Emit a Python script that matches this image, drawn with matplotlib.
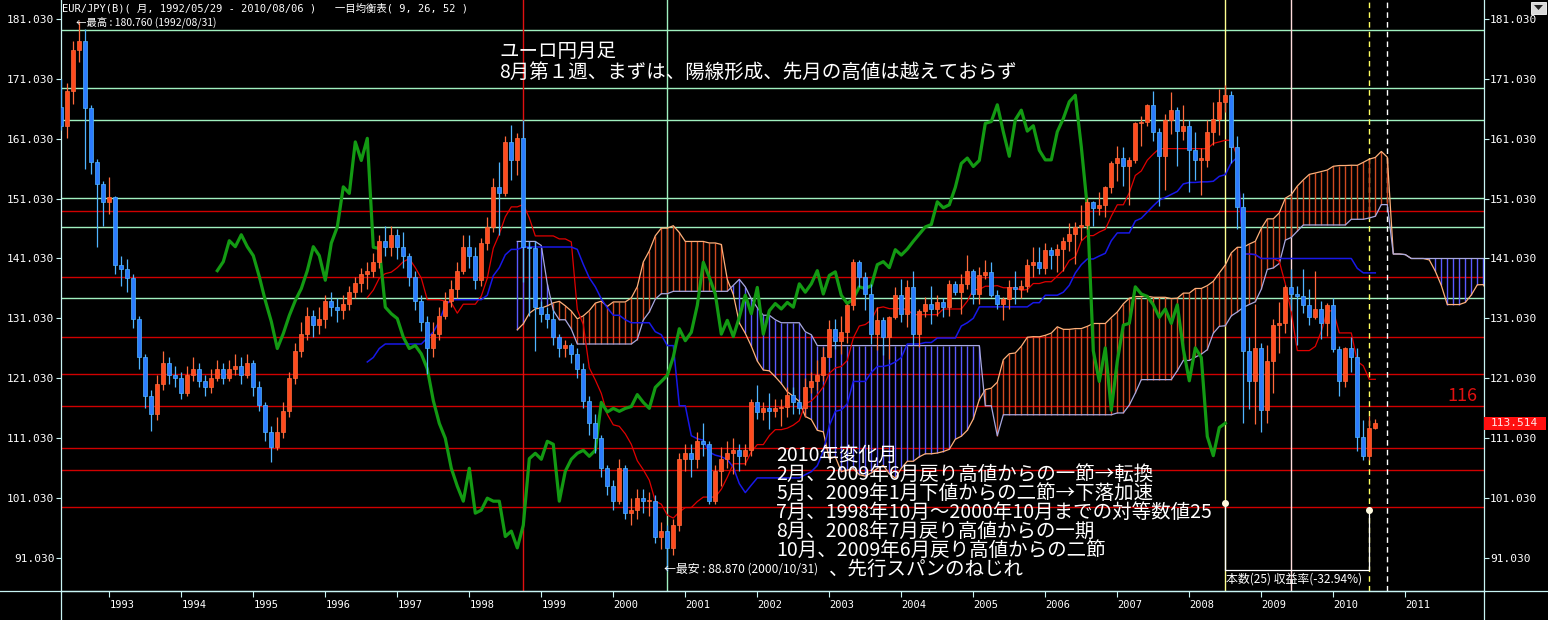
import numpy as np
import matplotlib.pyplot as plt
from matplotlib.lines import Line2D
from matplotlib.patches import Rectangle, Polygon

plt.rcParams['font.family'] = ['DejaVu Sans Mono', 'Noto Sans CJK JP']
JP = ['Noto Sans CJK JP', 'DejaVu Sans']

# EUR/JPY monthly bars, bar 0 = 1992/05, last bar = 2010/08
first_open = 166.3

close_1992 = [163.1, 169.0, 175.9, 177.3, 166.1, 157.2, 153.5, 150.5]
close_1993 = [151.3, 140.0, 139.2, 137.8, 131.0, 124.5, 118.0, 115.0, 120.0, 123.5, 121.5, 121.0]
close_1994 = [118.5, 121.5, 122.5, 120.5, 119.5, 121.0, 122.5, 121.0, 122.5, 123.0, 121.5, 123.5]
close_1995 = [119.5, 116.5, 112.0, 109.5, 112.0, 115.5, 121.0, 125.5, 128.5, 131.5, 130.0, 131.0]
close_1996 = [134.0, 133.0, 132.5, 133.5, 135.5, 137.0, 138.5, 139.0, 140.5, 144.0, 143.0, 145.0]
close_1997 = [143.0, 141.5, 138.0, 134.0, 130.5, 126.0, 128.5, 131.5, 134.0, 136.0, 139.0, 143.0]
close_1998 = [141.5, 137.4, 143.6, 146.3, 153.0, 151.9, 160.5, 157.4, 161.1, 142.9, 142.7, 132.9]
close_1999 = [131.8, 131.0, 127.9, 126.0, 126.5, 125.1, 122.6, 117.3, 113.5, 111.0, 106.0, 103.0]
close_2000 = [100.5, 106.0, 98.5, 99.0, 101.0, 100.5, 100.5, 94.6, 95.5, 92.7, 96.5, 107.6]
close_2001 = [108.5, 107.5, 110.5, 110.0, 100.5, 105.5, 107.5, 108.5, 109.0, 108.0, 109.0, 117.0]
close_2002 = [115.4, 116.0, 115.5, 116.0, 116.3, 118.3, 117.0, 116.0, 119.5, 120.5, 121.5, 124.6]
close_2003 = [129.3, 127.3, 128.7, 133.2, 140.4, 137.9, 135.1, 128.4, 130.7, 128.0, 131.2, 134.9]
close_2004 = [131.8, 136.2, 128.4, 132.3, 133.5, 132.6, 133.7, 132.9, 136.8, 135.4, 136.8, 139.0]
close_2005 = [135.1, 138.2, 138.8, 134.9, 133.5, 134.3, 136.3, 136.0, 136.5, 140.0, 140.5, 139.5]
close_2006 = [142.5, 141.6, 142.6, 143.9, 145.1, 146.3, 146.7, 150.5, 149.5, 150.0, 152.9, 156.9]
close_2007 = [157.8, 156.4, 157.4, 163.6, 163.9, 166.7, 162.2, 158.1, 164.2, 165.8, 162.3, 163.2]
close_2008 = [159.1, 157.5, 157.5, 162.2, 164.4, 167.2, 168.3, 159.7, 149.6, 125.6, 120.5, 126.1]
close_2009 = [115.7, 123.9, 129.9, 130.2, 136.3, 135.1, 134.7, 133.3, 131.2, 132.6, 130.2, 133.3]
close_2010 = [125.9, 120.6, 126.1, 124.5, 111.3, 108.1, 112.8, 113.514]

high_1992 = [171.0, 170.4, 177.4, 180.76, 179.4, 166.6, 157.7, 154.0]
high_1993 = [154.6, 151.5, 141.5, 141.0, 138.5, 131.5, 125.0, 119.0, 121.5, 125.5, 124.5, 123.0]
high_1994 = [122.0, 123.0, 124.5, 123.5, 121.5, 122.5, 124.0, 123.5, 124.0, 125.0, 124.5, 125.0]
high_1995 = [124.0, 120.5, 117.0, 113.0, 114.5, 117.0, 122.0, 127.0, 130.5, 133.0, 132.5, 133.0]
high_1996 = [135.0, 135.5, 134.5, 135.0, 136.5, 138.0, 139.5, 140.5, 142.0, 145.0, 146.5, 146.5]
high_1997 = [146.0, 145.5, 142.0, 139.0, 135.0, 131.5, 130.5, 133.0, 135.5, 137.5, 140.5, 145.0]
high_1998 = [145.0, 143.0, 144.5, 148.0, 154.5, 157.2, 161.5, 163.3, 162.0, 164.1, 144.0, 144.0]
high_1999 = [134.0, 133.0, 132.5, 128.5, 127.5, 127.0, 126.0, 123.5, 118.0, 115.0, 111.5, 106.5]
high_2000 = [104.0, 107.5, 106.5, 101.0, 102.5, 102.5, 102.0, 101.5, 97.0, 96.5, 97.5, 108.5]
high_2001 = [110.0, 110.0, 112.0, 113.5, 110.5, 106.5, 109.5, 110.5, 111.0, 110.0, 110.0, 117.5]
high_2002 = [119.9, 117.0, 118.5, 117.5, 117.5, 119.5, 119.6, 117.5, 121.0, 122.0, 124.0, 126.2]
high_2003 = [130.7, 131.0, 131.5, 133.5, 141.0, 140.7, 138.8, 136.8, 132.9, 131.2, 131.5, 136.2]
high_2004 = [137.6, 137.4, 139.0, 132.6, 134.6, 136.5, 135.0, 134.5, 137.5, 137.3, 138.5, 141.6]
high_2005 = [139.3, 139.6, 140.7, 140.4, 135.7, 134.6, 137.4, 139.0, 137.5, 141.0, 143.0, 143.0]
high_2006 = [143.6, 143.0, 143.5, 144.6, 146.9, 147.1, 149.9, 151.2, 150.6, 152.2, 153.1, 157.3]
high_2007 = [159.9, 159.7, 158.0, 163.9, 164.8, 166.9, 168.96, 162.9, 165.1, 168.9, 166.3, 166.7]
high_2008 = [164.1, 162.2, 159.4, 164.1, 167.2, 169.4, 169.96, 169.0, 161.5, 152.0, 128.0, 133.5]
high_2009 = [127.0, 126.5, 131.0, 133.8, 136.6, 139.2, 136.5, 139.2, 136.0, 138.9, 134.0, 133.6]
high_2010 = [134.4, 126.4, 126.2, 127.9, 126.0, 114.0, 114.8, 114.3]

low_1992 = [162.5, 161.1, 166.8, 173.9, 156.0, 155.2, 143.0, 146.5]
low_1993 = [148.5, 138.5, 136.5, 135.5, 129.5, 122.5, 116.0, 112.3, 114.0, 119.0, 120.0, 119.5]
low_1994 = [117.5, 118.0, 120.5, 119.5, 118.0, 118.5, 120.5, 120.0, 120.5, 121.5, 120.0, 121.0]
low_1995 = [118.0, 115.5, 110.5, 107.0, 109.0, 111.0, 114.5, 120.0, 124.5, 127.5, 128.0, 128.5]
low_1996 = [129.5, 131.5, 130.5, 131.0, 132.5, 134.5, 135.5, 136.0, 138.0, 139.5, 141.5, 141.5]
low_1997 = [141.0, 139.5, 136.5, 132.5, 129.0, 121.8, 124.5, 127.5, 131.0, 133.0, 134.5, 138.5]
low_1998 = [139.5, 136.0, 136.5, 142.5, 145.5, 145.0, 151.5, 154.1, 155.0, 137.1, 131.5, 125.5]
low_1999 = [130.5, 129.5, 126.5, 124.5, 124.5, 123.5, 121.0, 116.0, 111.5, 108.5, 104.5, 101.5]
low_2000 = [99.0, 100.0, 97.5, 96.5, 97.5, 98.5, 98.0, 93.5, 92.5, 88.87, 91.5, 95.5]
low_2001 = [105.5, 104.5, 106.0, 108.0, 100.0, 100.0, 103.0, 106.0, 105.0, 105.5, 106.5, 108.0]
low_2002 = [114.2, 114.0, 112.5, 114.5, 113.0, 114.5, 115.0, 115.0, 114.5, 118.5, 119.0, 120.5]
low_2003 = [124.5, 125.9, 125.0, 127.0, 132.4, 136.2, 132.4, 126.8, 125.7, 124.9, 124.3, 130.9]
low_2004 = [130.4, 129.6, 126.5, 126.2, 131.2, 130.1, 131.5, 131.2, 131.4, 135.0, 131.8, 136.0]
low_2005 = [133.5, 133.5, 137.6, 134.6, 132.6, 130.7, 132.6, 133.5, 134.5, 135.5, 138.0, 138.5]
low_2006 = [138.5, 139.2, 138.7, 138.9, 142.2, 140.1, 144.1, 145.9, 146.5, 148.3, 148.0, 151.9]
low_2007 = [153.9, 153.2, 150.0, 157.0, 159.9, 163.2, 160.7, 149.8, 152.4, 161.9, 156.4, 160.8]
low_2008 = [152.1, 154.1, 151.6, 156.3, 160.0, 161.6, 165.5, 157.0, 146.0, 113.6, 115.9, 113.4]
low_2009 = [112.1, 113.5, 118.5, 125.3, 128.6, 132.5, 126.5, 132.0, 130.0, 130.9, 127.6, 128.1]
low_2010 = [125.4, 118.0, 119.5, 122.0, 108.8, 107.3, 107.3, 112.5]

closes = (close_1992 + close_1993 + close_1994 + close_1995 + close_1996 + close_1997
          + close_1998 + close_1999 + close_2000 + close_2001 + close_2002 + close_2003
          + close_2004 + close_2005 + close_2006 + close_2007 + close_2008 + close_2009 + close_2010)
highs = (high_1992 + high_1993 + high_1994 + high_1995 + high_1996 + high_1997
         + high_1998 + high_1999 + high_2000 + high_2001 + high_2002 + high_2003
         + high_2004 + high_2005 + high_2006 + high_2007 + high_2008 + high_2009 + high_2010)
lows = (low_1992 + low_1993 + low_1994 + low_1995 + low_1996 + low_1997
        + low_1998 + low_1999 + low_2000 + low_2001 + low_2002 + low_2003
        + low_2004 + low_2005 + low_2006 + low_2007 + low_2008 + low_2009 + low_2010)

year_labels = [str(y) for y in range(1993, 2012)]
year_bars = [8 + 12 * k for k in range(len(year_labels))]
price_ticks = [91.03 + 10 * k for k in range(10)]

mint_levels = [179.20, 169.56, 164.23, 151.06, 146.28, 134.40]
red_levels = [148.95, 137.90, 127.91, 121.68, 116.36, 109.36, 105.70, 99.61]

title = "EUR/JPY(B)( 月, 1992/05/29 - 2010/08/06 )   一目均衡表( 9, 26, 52 )"
note_top = ["ユーロ円月足", "8月第１週、まずは、陽線形成、先月の高値は越えておらず"]
note_bottom = ["2010年変化月",
               "2月、2009年6月戻り高値からの一節→転換",
               "5月、2009年1月下値からの二節→下落加速",
               "7月、1998年10月～2000年10月までの対等数値25",
               "8月、2008年7月戻り高値からの一期",
               "10月、2009年6月戻り高値からの二節"]
note_last = "、先行スパンのねじれ"

# ---- derived series ----
c = np.array(closes)
h = np.array(highs)
l = np.array(lows)
o = np.array([first_open] + closes[:-1])   # monthly bars open at prior close
n = len(c)
idx = np.arange(n)

def midpoint(period, i):
    return (h[i - period + 1:i + 1].max() + l[i - period + 1:i + 1].min()) / 2

start = 51
ti = np.arange(start, n)
tenkan = np.array([midpoint(9, i) for i in ti])
kijun = np.array([midpoint(26, i) for i in ti])
span_a = (tenkan + kijun) / 2
span_b = np.array([midpoint(52, i) for i in ti])
lead = ti + 25

# ---- figure ----
W, H = 1548, 620
def fx(px):
    return px / W
def fy(py):
    return 1 - py / H

fig = plt.figure(figsize=(W / 100, H / 100), dpi=100, facecolor='black')
x0, x1, ybot = 60.7, 1483.6, 591
ax = fig.add_axes([fx(x0), fy(ybot), (x1 - x0) / W, ybot / H])
ax.set_facecolor('black')
ax.set_xlim(-0.1, 237.05)
ax.set_ylim(85.50, 184.20)

frame = '#c8f4f4'
mint = '#a0f0c0'
for v in mint_levels:
    ax.axhline(v, color=mint, lw=1.0, zorder=1)
for v in red_levels:
    ax.axhline(v, color='#d00000', lw=1.0, zorder=1)

ax.axvline(77, color='#e01010', lw=1.0, zorder=1)
ax.axvline(101, color=mint, lw=1.0, zorder=1)
ax.axvline(194, color='#ffff90', lw=1.0, zorder=1)
ax.axvline(205, color='#ffdcdc', lw=1.0, zorder=1)
ax.axvline(218, color='#ffff60', lw=1.0, ls=(0, (4, 3)), zorder=1)
ax.axvline(221, color='white', lw=1.0, ls=(0, (4, 3)), zorder=1)

# cloud
bull = span_a >= span_b
hatch_cols = np.where(bull, '#d04a20', '#5a5aff')
ax.vlines(lead, np.minimum(span_a, span_b), np.maximum(span_a, span_b),
          colors=hatch_cols, lw=1.0, zorder=2)
ax.plot(lead, span_a, color='#ffb07a', lw=0.9, zorder=2.2)
ax.plot(lead, span_b, color='#a8a8e0', lw=0.9, zorder=2.2)

# tenkan / kijun / chikou
ax.plot(ti, tenkan, color='#e00000', lw=0.9, zorder=3)
ax.plot(ti, kijun, color='#1818e8', lw=1.1, zorder=3)
ax.plot(ti - 25, c[ti], color='#139a13', lw=2.3, zorder=3.5, solid_joinstyle='round')

# candles
up = c >= o
for sel, body, edge in [(up, '#ff4b1e', '#ff6a3c'), (~up, '#2c7cff', '#50b4ff')]:
    ax.vlines(idx[sel], l[sel], h[sel], color=edge, lw=0.9, zorder=5)
    bottom = np.minimum(o, c)[sel]
    height = np.maximum(np.abs(c - o)[sel], 0.25)
    ax.bar(idx[sel], height, bottom=bottom, width=0.62, color=body,
           edgecolor=edge, linewidth=0.5, zorder=6)

# measuring bracket
ax.plot([194, 194, 218, 218], [100.14, 89.0, 89.0, 99.03], color='white', lw=0.9, zorder=7)
ax.plot([194, 218], [100.14, 99.03], 'o', color='#fffbe0', ms=4, zorder=8)
ax.text(194.15, 87.45, "本数(25) 収益率(-32.94%)", color='white', fontsize=8.6,
        family=JP, va='center', ha='left', zorder=8)

# axes styling
ax.set_yticks(price_ticks)
ax.set_yticklabels([f"{v:.3f}" for v in price_ticks])
ax.tick_params(axis='y', left=True, right=True, labelleft=True, labelright=True,
               direction='out', length=3.6, width=0.8, color=frame,
               labelcolor='white', labelsize=8, pad=1)
ax.set_xticks(year_bars)
ax.set_xticklabels(year_labels)
ax.tick_params(axis='x', direction='out', length=4.3, width=0.8, color=frame,
               labelcolor='white', labelsize=7.5, pad=2)
for lab in ax.get_xticklabels():
    lab.set_horizontalalignment('left')
for side in ['left', 'right', 'bottom']:
    ax.spines[side].set_color(frame)
    ax.spines[side].set_linewidth(0.9)
ax.spines['top'].set_visible(False)

fig.add_artist(Line2D([0, 1], [fy(ybot), fy(ybot)], color=frame, lw=0.9))
fig.add_artist(Line2D([fx(x0), fx(x0)], [0, fy(ybot)], color=frame, lw=0.9))
fig.add_artist(Line2D([fx(x1), fx(x1)], [0, fy(ybot)], color=frame, lw=0.9))

# texts
fig.text(fx(62), fy(8), title, color='white', fontsize=7.5, va='center', ha='left')
fig.text(fx(76), fy(22.5), "←最高 : 180.760 (1992/08/31)", color='white', fontsize=7.5,
         family=JP, va='center', ha='left')
fig.text(fx(499), fy(51), note_top[0], color='white', fontsize=14, family=JP, va='center')
fig.text(fx(499), fy(72), note_top[1], color='white', fontsize=14, family=JP, va='center')
for k, line in enumerate(note_bottom):
    fig.text(fx(776), fy(455 + 19.1 * k), line, color='white', fontsize=14, family=JP, va='center')
fig.text(fx(829), fy(569.5), note_last, color='white', fontsize=14, family=JP, va='center')
fig.text(fx(664), fy(569.5), "←最安 : 88.870 (2000/10/31)", color='white', fontsize=8.6,
         family=JP, va='center', ha='left')
fig.text(fx(1447), fy(396), "116", color='#e01010', fontsize=13, family=JP, va='center')

# last price box
fig.add_artist(Rectangle((fx(1484), fy(430)), 62 / W, 13 / H, facecolor='#ff1010',
                         edgecolor='none', transform=fig.transFigure))
fig.text(fx(1491), fy(423.5), "113.514", color='#ffe6e6', fontsize=8, va='center', ha='left')

# small menu button at top right
fig.add_artist(Rectangle((fx(1531), fy(14)), 15 / W, 12 / H, facecolor='#d8d8d8',
                         edgecolor='white', lw=0.6, transform=fig.transFigure))
fig.add_artist(Polygon([(fx(1534), fy(5)), (fx(1543), fy(5)), (fx(1538.5), fy(10))],
                       closed=True, facecolor='#202020', transform=fig.transFigure))

fig.savefig('out.png', dpi=100, facecolor='black')
